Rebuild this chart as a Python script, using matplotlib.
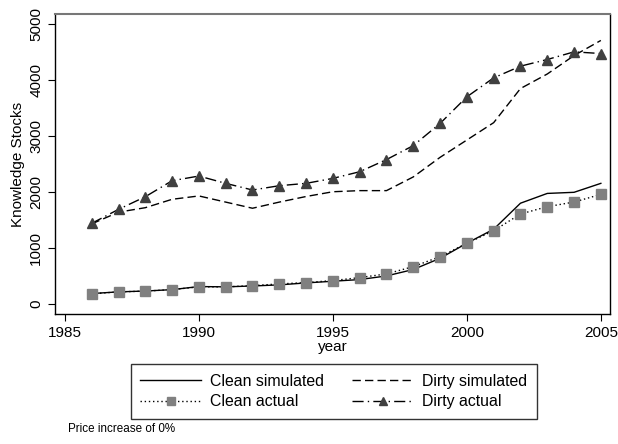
import numpy as np
import matplotlib.pyplot as plt

plt.rcParams['font.family'] = ['Liberation Sans', 'DejaVu Sans']

years = list(range(1986, 2006))

clean_sim = [185, 215, 230, 255, 310, 305, 320, 340, 375, 405, 435, 500, 615, 815, 1085, 1335, 1800, 1975, 1995, 2155]
dirty_sim = [1430, 1640, 1720, 1870, 1930, 1820, 1710, 1820, 1920, 2005, 2025, 2025, 2270, 2620, 2930, 3240, 3850, 4110, 4440, 4710]
clean_act = [180, 215, 228, 256, 304, 304, 327, 357, 381, 417, 470, 536, 666, 845, 1083, 1309, 1607, 1738, 1821, 1958]
dirty_act = [1440, 1690, 1916, 2202, 2286, 2155, 2036, 2113, 2155, 2244, 2363, 2580, 2830, 3226, 3702, 4041, 4250, 4369, 4506, 4476]

xticks = [1985, 1990, 1995, 2000, 2005]
yticks = [0, 1000, 2000, 3000, 4000, 5000]

fig = plt.figure(figsize=(6.18, 4.44), dpi=100)
ax = fig.add_axes([0.089, 0.293, 0.898, 0.675])

l1, = ax.plot(years, clean_sim, color='black', lw=1.0, label='Clean simulated')
l2, = ax.plot(years, clean_act, color='black', lw=1.0, ls=(0, (1, 2)),
              marker='s', ms=6.5, mfc='#808080', mec='#808080', label='Clean actual')
l3, = ax.plot(years, dirty_sim, color='black', lw=1.0, ls=(0, (6, 3)), label='Dirty simulated')
l4, = ax.plot(years, dirty_act, color='black', lw=1.0, ls=(0, (8, 3, 1, 3)),
              marker='^', ms=7, mfc='#404040', mec='#404040', label='Dirty actual')

ax.set_xlim(1984.63, 2005.34)
ax.set_ylim(-179, 5179)
ax.set_xticks(xticks)
ax.set_yticks(yticks)
ax.tick_params(direction='out', length=5, width=0.8, labelsize=11, colors='black')
plt.setp(ax.get_yticklabels(), rotation=90, va='center')
ax.set_xlabel('year', fontsize=11, labelpad=0)
ax.set_ylabel('Knowledge Stocks', fontsize=11, labelpad=3)
for s in ['left', 'right', 'bottom']:
    ax.spines[s].set_linewidth(1.0)
ax.spines['top'].set_color('#777777')
ax.spines['top'].set_linewidth(1.5)

leg = fig.legend(handles=[l1, l2, l3, l4], ncol=2, loc='center',
                 bbox_to_anchor=(0.54, 0.118), fontsize=11.4, frameon=True,
                 fancybox=False, edgecolor='black', handlelength=3.85,
                 columnspacing=1.77, borderpad=0.6, labelspacing=0.35,
                 handletextpad=0.57, markerscale=0.8)
leg.get_frame().set_linewidth(1.0)

fig.text(0.11, 0.027, 'Price increase of 0%', fontsize=8.4)

fig.savefig('out.png', dpi=100)
